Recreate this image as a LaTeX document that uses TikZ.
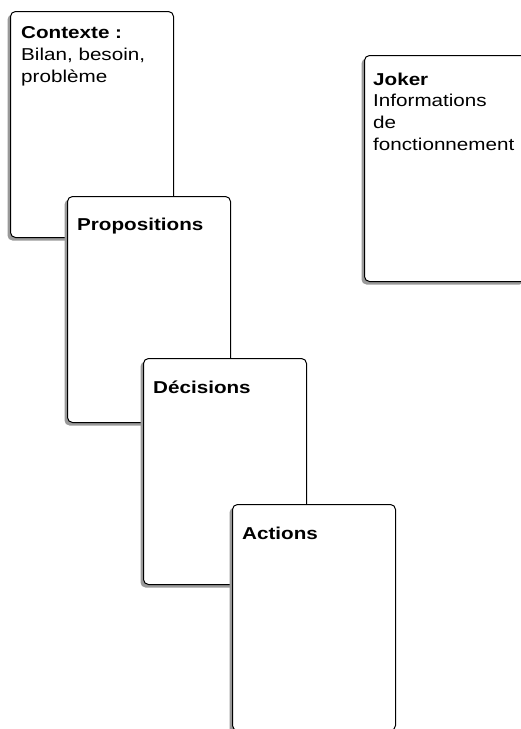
\documentclass[tikz,border=0pt]{standalone}
\usepackage{fontspec}
\setmainfont[FakeStretch=1.2]{Liberation Sans}
\usetikzlibrary{shadows}

\tikzset{
  card/.style={draw=black, line width=1pt, rounded corners=5pt, fill=white,
    anchor=north west, minimum width=163pt, minimum height=226pt, inner sep=0pt,
    drop shadow={shadow xshift=-3pt, shadow yshift=-3pt, opacity=1, fill=black!40}},
  cardtext/.style={anchor=base west, align=left, inner sep=0pt,
    font=\fontsize{17.2}{21.8}\selectfont}
}

\begin{document}
\begin{tikzpicture}[x=1pt,y=-1pt]
\useasboundingbox (0,0) rectangle (521,729);
\clip (0,0) rectangle (521,729);

\node[card] (ctx) at (10,11) {};
\node[cardtext] (ctxtxt) at ([shift={(11,71.1)}]ctx.north west) {\textbf{Contexte :}\\Bilan, besoin,\\problème};

\node[card] (prop) at (67,196) {}; % second card
\node[cardtext] (proptxt) at ([shift={(10,34)}]prop.north west) {\textbf{Propositions}};

\node[card] (dec) at (143,358) {};
\node[cardtext] (dectxt) at ([shift={(10,35)}]dec.north west) {\textbf{Décisions}};

\node[card] (act) at (232,504) {};
\node[cardtext] (acttxt) at ([shift={(10,35)}]act.north west) {\textbf{Actions}};

\node[card] (jok) at (364,55) {}; %joker, on the side
\node[cardtext] (joktxt) at ([shift={(9,95.4)}]jok.north west) {\textbf{Joker}\\Informations\\de\\fonctionnement};
\end{tikzpicture}
\end{document}
